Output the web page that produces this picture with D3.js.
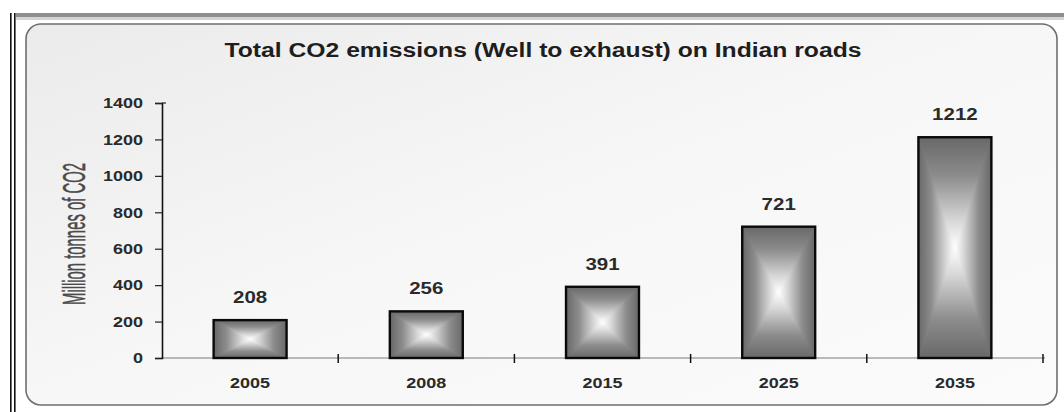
<!DOCTYPE html>
<html>
<head>
<meta charset="utf-8">
<script src="https://cdn.jsdelivr.net/npm/d3@7"></script>
<style>
  body { margin: 0; background: #fff; }
  svg { display: block; font-family: "Liberation Sans", Arial, sans-serif; }
</style>
</head>
<body>
<svg></svg>
<script>
'use strict';

// chart data
var years = ['2005', '2008', '2015', '2025', '2035'];
var emissions = [208, 256, 391, 721, 1212];
var yTicks = [0, 200, 400, 600, 800, 1000, 1200, 1400];

var SVG_SIZE = { width: 1064, height: 412 };
var PLOT = { left: 162, right: 1043, top: 103, bottom: 358 };

var svg = d3.select('svg')
    .attr('width', SVG_SIZE.width).attr('height', SVG_SIZE.height);

var defs = svg.append('defs');

// panel background
var bg = defs.append('linearGradient').attr('id', 'panelBg')
    .attr('x1', 0).attr('y1', 0).attr('x2', 1).attr('y2', 1);
bg.append('stop').attr('offset', 0).attr('stop-color', '#ebebeb');
bg.append('stop').attr('offset', 0.5).attr('stop-color', '#f7f7f7');
bg.append('stop').attr('offset', 1).attr('stop-color', '#fbfbfb');

// one gradient per side of the bar: gray edge to white centre
var sides = {
    top: { x1: 0, y1: 0, x2: 0, y2: 1 },
    bottom: { x1: 0, y1: 1, x2: 0, y2: 0 },
    left: { x1: 0, y1: 0, x2: 1, y2: 0 },
    right: { x1: 1, y1: 0, x2: 0, y2: 0 }
};
Object.keys(sides).forEach(function (k) {
    var g = defs.append('linearGradient').attr('id', 'bar-' + k)
        .attr('x1', sides[k].x1).attr('y1', sides[k].y1)
        .attr('x2', sides[k].x2).attr('y2', sides[k].y2);
    g.append('stop').attr('offset', 0).attr('stop-color', '#686868');
    g.append('stop').attr('offset', 0.35).attr('stop-color', '#8c8c8c');
    g.append('stop').attr('offset', 0.75).attr('stop-color', '#d6d6d6');
    g.append('stop').attr('offset', 1).attr('stop-color', '#ffffff');
});

// outer frame
svg.append('rect').attr('x', 16).attr('y', 13).attr('width', 1048).attr('height', 4).attr('fill', '#8f8f8f');
svg.append('rect').attr('x', 16).attr('y', 17).attr('width', 1048).attr('height', 3).attr('fill', '#d4d4d4');
svg.append('rect').attr('x', 10).attr('y', 13).attr('width', 1.6).attr('height', 399).attr('fill', '#111');
svg.append('rect').attr('x', 14).attr('y', 13).attr('width', 1.6).attr('height', 399).attr('fill', '#111');

// rounded panel
svg.append('rect')
    .attr('x', 26).attr('y', 24).attr('width', 1031).attr('height', 381)
    .attr('rx', 15).attr('ry', 15)
    .attr('fill', 'url(#panelBg)')
    .attr('stroke', '#6f6f6f').attr('stroke-width', 1.6);

// title
svg.append('text')
    .attr('x', 543).attr('y', 57)
    .attr('text-anchor', 'middle')
    .attr('font-size', 20).attr('font-weight', 'bold').attr('fill', '#1e1e1e')
    .attr('textLength', 637).attr('lengthAdjust', 'spacingAndGlyphs')
    .text('Total CO2 emissions (Well to exhaust) on Indian roads');

// scales
var xScale = d3.scaleBand()
    .domain(years)
    .range([PLOT.left, PLOT.right])
    .paddingInner(0.586).paddingOuter(0.293);

var yScale = d3.scaleLinear()
    .domain([0, 1400])
    .range([PLOT.bottom, PLOT.top]);

// x axis line and boundary ticks
svg.append('line')
    .attr('x1', PLOT.left).attr('x2', PLOT.right + 2)
    .attr('y1', yScale(0)).attr('y2', yScale(0))
    .attr('stroke', '#7a7a7a').attr('stroke-width', 1.2);

var step = xScale.step();
svg.append('g').selectAll('line')
    .data(years)
    .join('line')
    .attr('x1', function (d) { return xScale(d) + xScale.bandwidth() / 2 + step / 2; })
    .attr('x2', function (d) { return xScale(d) + xScale.bandwidth() / 2 + step / 2; })
    .attr('y1', yScale(0) - 4).attr('y2', yScale(0) + 5)
    .attr('stroke', '#111').attr('stroke-width', 1.5);

// x labels
svg.append('g').selectAll('text')
    .data(years)
    .join('text')
    .attr('x', function (d) { return xScale(d) + xScale.bandwidth() / 2; })
    .attr('y', 388)
    .attr('text-anchor', 'middle')
    .attr('font-size', 15).attr('font-weight', 'bold').attr('fill', '#2a2a2a')
    .attr('textLength', function (d) { return d.length * 10; })
    .attr('lengthAdjust', 'spacingAndGlyphs')
    .text(function (d) { return d; });

// y axis
var yAxis = d3.axisLeft(yScale).tickValues(yTicks).tickFormat(d3.format('d'))
    .tickSize(7).tickPadding(12);
var yg = svg.append('g')
    .attr('transform', 'translate(' + PLOT.left + ',0)')
    .call(yAxis);
yg.select('.domain').attr('stroke', '#111').attr('stroke-width', 1.6);
yg.selectAll('.tick line').attr('stroke', '#222').attr('stroke-width', 1.2);
yg.selectAll('.tick text')
    .attr('font-family', '"Liberation Sans", Arial, sans-serif')
    .attr('font-size', 15).attr('font-weight', 'bold').attr('fill', '#2a2a2a')
    .attr('textLength', function (d) { return String(d).length * 10; })
    .attr('lengthAdjust', 'spacingAndGlyphs');
// little right stub at the top tick
svg.append('line')
    .attr('x1', PLOT.left).attr('x2', PLOT.left + 4)
    .attr('y1', yScale(1400)).attr('y2', yScale(1400))
    .attr('stroke', '#222').attr('stroke-width', 1.2);

// y axis title (tall, condensed): small font stretched across the baseline
svg.append('text')
    .attr('transform', 'translate(85,234) rotate(-90) scale(1,2.15)')
    .attr('text-anchor', 'middle')
    .attr('font-family', '"Liberation Sans Narrow", "Liberation Sans", Arial, sans-serif')
    .attr('font-size', 15).attr('fill', '#4a4a4a')
    .attr('stroke', '#4a4a4a').attr('stroke-width', 0.25)
    .attr('textLength', 142).attr('lengthAdjust', 'spacingAndGlyphs')
    .text('Million tonnes of CO2');

// bars
var bars = svg.append('g').selectAll('g')
    .data(emissions)
    .join('g');

function corners(d, i) {
    var x0 = xScale(years[i]), x1 = x0 + xScale.bandwidth();
    var y0 = yScale(d), y1 = yScale(0);
    return { x0: x0, x1: x1, y0: y0, y1: y1, cx: (x0 + x1) / 2, cy: (y0 + y1) / 2 };
}
function tri(a, b, c) {
    return 'M' + a.join(',') + 'L' + b.join(',') + 'L' + c.join(',') + 'Z';
}

// backing rect hides the anti-aliased seams between triangles
bars.append('rect')
    .attr('x', function (d, i) { return xScale(years[i]); })
    .attr('y', function (d) { return yScale(d); })
    .attr('width', xScale.bandwidth())
    .attr('height', function (d) { return yScale(0) - yScale(d); })
    .attr('fill', '#9a9a9a');

var parts = [
    ['top', function (c) { return tri([c.x0, c.y0], [c.x1, c.y0], [c.cx, c.cy]); }],
    ['bottom', function (c) { return tri([c.x0, c.y1], [c.x1, c.y1], [c.cx, c.cy]); }],
    ['left', function (c) { return tri([c.x0, c.y0], [c.x0, c.y1], [c.cx, c.cy]); }],
    ['right', function (c) { return tri([c.x1, c.y0], [c.x1, c.y1], [c.cx, c.cy]); }]
];
parts.forEach(function (p) {
    bars.append('path')
        .attr('fill', 'url(#bar-' + p[0] + ')')
        .attr('stroke', 'url(#bar-' + p[0] + ')')
        .attr('stroke-width', 0.8)
        .attr('stroke-linejoin', 'bevel')
        .attr('d', function (d, i) { return p[1](corners(d, i)); });
});

bars.append('rect')
    .attr('x', function (d, i) { return xScale(years[i]); })
    .attr('y', function (d) { return yScale(d); })
    .attr('width', xScale.bandwidth())
    .attr('height', function (d) { return yScale(0) - yScale(d); })
    .attr('fill', 'none')
    .attr('stroke', '#0a0a0a').attr('stroke-width', 2.4);

// value labels
bars.append('text')
    .attr('x', function (d, i) { return xScale(years[i]) + xScale.bandwidth() / 2; })
    .attr('y', function (d) { return yScale(d) - 17; })
    .attr('text-anchor', 'middle')
    .attr('font-size', 17).attr('font-weight', 'bold').attr('fill', '#2a2a2a')
    .attr('textLength', function (d) { return String(d).length * 11.4; })
    .attr('lengthAdjust', 'spacingAndGlyphs')
    .text(function (d) { return d; });
</script>
</body>
</html>
